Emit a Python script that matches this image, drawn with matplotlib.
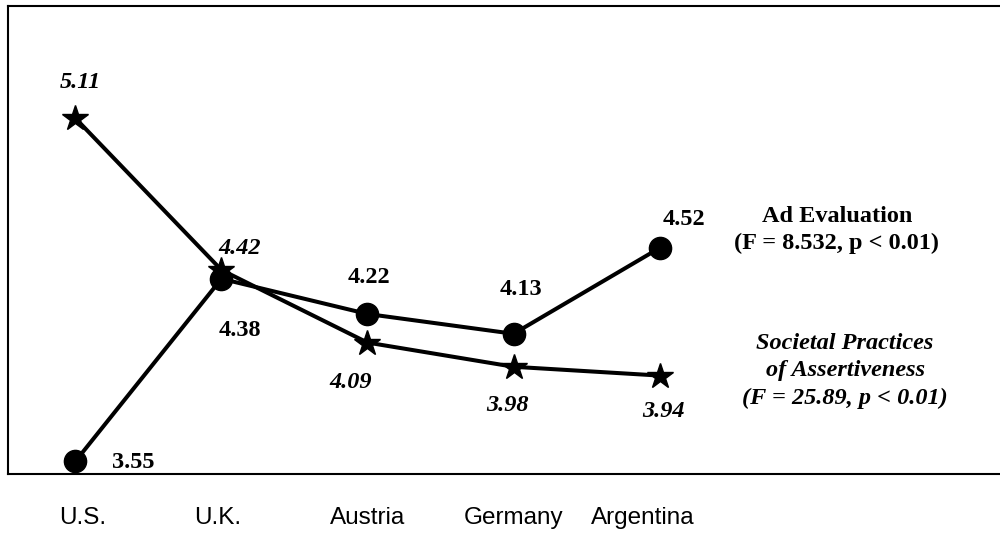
import matplotlib.pyplot as plt
import numpy as np

countries = ['U.S.', 'U.K.', 'Austria', 'Germany', 'Argentina']
ad_eval = [3.55, 4.38, 4.22, 4.13, 4.52]
assertiveness = [5.11, 4.42, 4.09, 3.98, 3.94]

# label offsets in pixels (dx, dy) from each point
ad_offsets = [(58, -1), (18, -52), (1, 36), (7, 44), (24, 28)]
as_offsets = [(5, 36), (18, 21), (-17, -40), (-6, -39), (4, -36)]
# category label shift (in x units) to mimic original placement
label_shift = [0.053, -0.023, 0.003, 0.002, -0.114]

serif = 'Liberation Serif'
sans = 'Liberation Sans'

fig = plt.figure(figsize=(10, 5.34), dpi=100)
ax = fig.add_axes([0.008, 0.1124, 0.992, 0.8764])
x = np.arange(len(countries))

ax.plot(x, ad_eval, color='black', lw=2.9, marker='o', markersize=16, zorder=3)
ax.plot(x, assertiveness, color='black', lw=2.9, marker='*', markersize=19, zorder=3)

for xi, v, (dx, dy) in zip(x, ad_eval, ad_offsets):
    ax.annotate('%.2f' % v, (xi, v), xytext=(dx, dy), textcoords='offset pixels',
                ha='center', va='center', fontsize=17.5, fontweight='bold', family=serif)
for xi, v, (dx, dy) in zip(x, assertiveness, as_offsets):
    ax.annotate('%.2f' % v, (xi, v), xytext=(dx, dy), textcoords='offset pixels',
                ha='center', va='center', fontsize=17.5, fontweight='bold',
                fontstyle='italic', family=serif)

ax.text(5.214, 4.602, 'Ad Evaluation\n(F = 8.532, p < 0.01)', ha='center', va='center',
        fontsize=17.5, fontweight='bold', family=serif, linespacing=1.4)
ax.text(5.27, 3.961, 'Societal Practices\nof Assertiveness\n(F = 25.89, p < 0.01)',
        ha='center', va='center', fontsize=17.5, fontweight='bold', fontstyle='italic',
        family=serif, linespacing=1.4)

ax.set_xlim(-0.461, 6.33)
ax.set_ylim(3.4927, 5.62)
ax.set_xticks(x + np.array(label_shift))
ax.set_xticklabels(countries, family=sans, fontsize=17.5)
ax.tick_params(axis='x', length=0, pad=24)
ax.set_yticks([])
ax.spines['right'].set_visible(False)
for s in ['top', 'left', 'bottom']:
    ax.spines[s].set_linewidth(1.5)

plt.savefig('out.png', dpi=100)
